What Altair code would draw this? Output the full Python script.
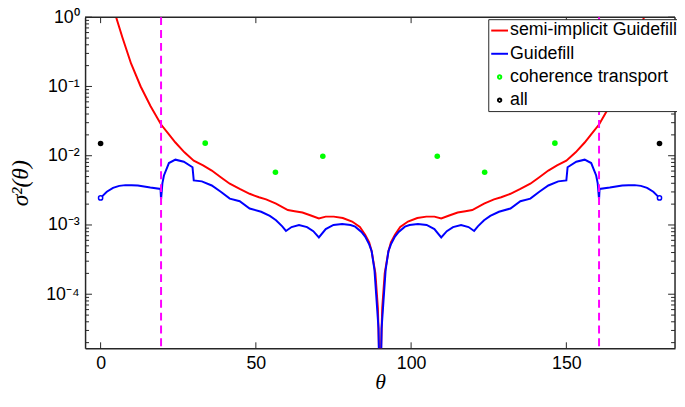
import math
import altair as alt
import pandas as pd

# ---------------- data ----------------
# Guidefill (blue)
blue_theta = [0, 2, 4, 6, 8, 10, 12, 14, 16, 19.3, 19.47, 19.9, 20.4, 22.0, 24.1, 26.8, 29.6, 30.0,
              32.6, 35.8, 38.7, 41.6, 44.8, 48.0, 51.7, 54.5, 56.5, 58.5, 59.7, 61.5, 63.9, 66.5,
              68.5, 70.3, 72.5, 75.0, 77.8, 80.5, 82.0, 84.0, 85.2, 86.5, 87.3, 88.2, 88.9, 89.5,
              89.85, 90,
              90.15, 90.5, 91.1, 91.8, 92.7, 93.5, 94.8, 96.0, 98.0, 99.5, 102.2, 105.0, 107.5,
              109.7, 111.5, 113.5, 116.1, 118.5, 120.3, 121.5, 123.5, 125.5, 128.3, 132.0, 135.2,
              138.4, 141.3, 144.2, 147.4, 150.0, 150.4, 153.2, 155.9, 158.0, 159.6, 160.1, 160.53,
              160.7, 164, 166, 168, 170, 172, 174, 176, 178, 180]
blue_val = [0.00246, 0.00302, 0.00343, 0.00367, 0.00376, 0.00376, 0.00372, 0.00359, 0.00347,
            0.00331, 0.00234, 0.00398, 0.00518, 0.00783, 0.00877, 0.00820, 0.00681, 0.00440,
            0.00426, 0.00372, 0.00302, 0.00240, 0.00220, 0.00173, 0.00155, 0.00135, 0.00117,
            0.000955, 0.000820, 0.000933, 0.00100, 0.000933, 0.000813, 0.000661, 0.000871,
            0.00100, 0.00103, 0.00100, 0.000946, 0.000794, 0.000681, 0.000525, 0.000417,
            0.000224, 7.9e-5, 3.2e-5, 3.2e-6, 1e-7,
            3.2e-6, 3.2e-5, 7.9e-5, 0.000224, 0.000417, 0.000525, 0.000681, 0.000794, 0.000946,
            0.00100, 0.00103, 0.00100, 0.000871, 0.000661, 0.000813, 0.000933, 0.00100,
            0.000933, 0.000820, 0.000955, 0.00117, 0.00135, 0.00155, 0.00173, 0.00220, 0.00240,
            0.00302, 0.00372, 0.00426, 0.00440, 0.00681, 0.00820, 0.00877, 0.00783, 0.00518,
            0.00398, 0.00234, 0.00331, 0.00347, 0.00359, 0.00372, 0.00376, 0.00376, 0.00367,
            0.00343, 0.00302, 0.00246]

# semi-implicit Guidefill (red)
red_theta = [2, 3.5, 5, 7, 9.8, 12.9, 16.1, 19.47, 22, 24.1, 27, 30, 33, 35.8, 38.7, 41.6, 44.8,
             48, 51, 53.3, 56.5, 60.3, 62.5, 65, 67.5, 70.3, 72.5, 75.1, 78, 81, 83.5, 85.2,
             86.5, 87.3, 88.5, 89.3, 89.8, 90,
             90.2, 90.7, 91.5, 92.7, 93.5, 94.8, 96.5, 99, 102, 104.9, 107.5, 109.7, 112.5, 115,
             117.5, 119.7, 123.5, 126.7, 129, 132, 135.2, 138.4, 141.3, 144.2, 147, 150, 153,
             155.9, 158, 160.53, 163.9, 167.1, 170.2, 173, 175, 176.5, 178]
red_val = [3.16, 1.585, 1.0, 0.513, 0.215, 0.100, 0.0518, 0.0282, 0.0204, 0.0155, 0.0112,
           0.00849, 0.00724, 0.00611, 0.00490, 0.00394, 0.00331, 0.00282, 0.00251, 0.00234,
           0.00204, 0.00164, 0.00158, 0.00151, 0.00138, 0.00124, 0.00132, 0.00132, 0.00126,
           0.00112, 0.000933, 0.000724, 0.000562, 0.000417, 0.000200, 6.3e-5, 1e-5, 1e-7,
           1e-5, 6.3e-5, 0.000200, 0.000417, 0.000562, 0.000724, 0.000933, 0.00112, 0.00126,
           0.00132, 0.00132, 0.00124, 0.00138, 0.00151, 0.00158, 0.00164, 0.00204, 0.00234,
           0.00251, 0.00282, 0.00331, 0.00394, 0.00490, 0.00611, 0.00724, 0.00849, 0.0112,
           0.0155, 0.0204, 0.0282, 0.0518, 0.100, 0.215, 0.513, 1.0, 1.585, 3.16]

# blue end markers
end_theta = [0, 180]
end_val = [0.00246, 0.00246]

# coherence transport (green) and all (black)
green_theta = [33.69, 56.31, 71.57, 108.43, 123.69, 146.31]
green_val = [0.0152, 0.00577, 0.0098, 0.0098, 0.00577, 0.0152]
black_theta = [0, 180]
black_val = [0.015, 0.015]

# dashed vertical lines
vline_theta = [19.47, 160.53]

# legend / axes
series_names = ["semi-implicit Guidefill", "Guidefill", "coherence transport", "all"]
series_colors = ["#FF0000", "#0000FF", "#00FF00", "#000000"]
x_ticks = [0, 50, 100, 150]
y_major = [1e-4, 1e-3, 1e-2, 1e-1, 1]
y_major_exp = [-4, -3, -2, -1, 0]
y_labels = ["10⁻⁴", "10⁻³", "10⁻²", "10⁻¹", "10⁰"]

# ---------------- chart ----------------
W, H = 597, 335
X0, X1 = -5, 185
DECADES = 4.78
YMIN = 10 ** -DECADES
FONT = "Liberation Sans"
AXC = "#262626"

PX_X = W / (X1 - X0)          # pixels per theta unit
PX_DEC = H / DECADES          # pixels per decade

y_ticks_all = [m * 10.0 ** e for e in range(-5, 1) for m in range(1, 10) if YMIN <= m * 10.0 ** e <= 1.0]

label_expr = "".join(
    f"abs(log(datum.value)/LN10 - ({e})) < 0.01 ? '{l}' : " for e, l in zip(y_major_exp, y_labels)
) + "''"
DOT = "M -0.2,0 A 0.2,0.2 0 1,0 0.2,0 A 0.2,0.2 0 1,0 -0.2,0 Z"

XS = alt.Scale(domain=[X0, X1], nice=False, zero=False)
YS = alt.Scale(type="log", domain=[YMIN, 1], nice=False)

red_df = pd.DataFrame({"theta": red_theta, "value": red_val})
blue_df = pd.DataFrame({"theta": blue_theta, "value": blue_val})
end_df = pd.DataFrame({"theta": end_theta, "value": end_val})
green_df = pd.DataFrame({"theta": green_theta, "value": green_val})
black_df = pd.DataFrame({"theta": black_theta, "value": black_val})
vline_df = pd.DataFrame({"theta": vline_theta})
legend_df = pd.DataFrame({"series": series_names, "theta": [90] * 4, "value": [1e-9] * 4})

# box ticks (pointing inward) as short two-point line segments, placed through the scales
seg = []
k = 0
for v in y_ticks_all:
    major = abs(round(math.log10(v)) - math.log10(v)) < 1e-6
    L = (7 if major else 4) / PX_X
    for a, b in ((X0, X0 + L), (X1, X1 - L)):
        seg.append({"tid": k, "theta": a, "value": v})
        seg.append({"tid": k, "theta": b, "value": v})
        k += 1
dl = 10 ** (6 / PX_DEC)
for t in x_ticks:
    for a, b in ((YMIN, YMIN * dl), (1.0, 1.0 / dl)):
        seg.append({"tid": k, "theta": t, "value": a})
        seg.append({"tid": k, "theta": t, "value": b})
        k += 1
tick_seg_df = pd.DataFrame(seg)
# top and right edges of the box
frame_df = pd.DataFrame({"tid": [0, 0, 1, 1],
                         "theta": [X0, X1, X1, X1],
                         "value": [1.0, 1.0, 1.0, YMIN]})

ax_x_label = alt.Axis(orient="bottom", values=x_ticks, ticks=False, grid=False,
                      labelFont=FONT, labelFontSize=18, labelColor="#000000", labelPadding=6,
                      domainColor=AXC, domainWidth=1.5,
                      title="θ", titleFont="Liberation Serif", titleFontStyle="italic",
                      titleFontWeight="normal", titleFontSize=22, titleColor="#000000",
                      titlePadding=0)
ax_y_label = alt.Axis(orient="left", values=y_major, ticks=False, grid=False,
                      labelExpr=label_expr, labelFont=FONT, labelFontSize=18,
                      labelColor="#000000", labelPadding=6,
                      domainColor=AXC, domainWidth=1.5,
                      title="σ²(θ)", titleFont="Liberation Serif", titleFontStyle="italic",
                      titleFontWeight="normal", titleFontSize=24, titleColor="#000000",
                      titlePadding=13)

red = alt.Chart(red_df).mark_line(color="#FF0000", strokeWidth=2, clip=True).encode(
    x=alt.X("theta:Q", scale=XS, axis=ax_x_label),
    y=alt.Y("value:Q", scale=YS, axis=ax_y_label),
)
ticks = alt.Chart(tick_seg_df).mark_line(color=AXC, strokeWidth=1).encode(
    x="theta:Q", y="value:Q", detail="tid:N", order="tid:Q",
)
frame = alt.Chart(frame_df).mark_line(color=AXC, strokeWidth=1.5).encode(
    x="theta:Q", y="value:Q", detail="tid:N",
)
blue = alt.Chart(blue_df).mark_line(color="#0000FF", strokeWidth=2, clip=True).encode(
    x="theta:Q", y="value:Q",
)
ends = alt.Chart(end_df).mark_point(shape="circle", filled=False, fill="white", color="#0000FF",
                                    strokeWidth=1.5, size=18, opacity=1).encode(
    x="theta:Q", y="value:Q",
)
vlines = alt.Chart(vline_df).mark_rule(color="#FF00FF", strokeWidth=2, strokeDash=[8, 5]).encode(
    x="theta:Q",
)
green = alt.Chart(green_df).mark_point(shape="circle", filled=True, color="#00FF00",
                                       size=32, opacity=1).encode(
    x="theta:Q", y="value:Q",
)
black = alt.Chart(black_df).mark_point(shape="circle", filled=True, color="#000000",
                                       size=32, opacity=1).encode(
    x="theta:Q", y="value:Q",
)

leg = alt.Legend(title=None, orient="none", legendX=408, legendY=2, zindex=1,
                 fillColor="white", strokeColor=AXC, padding=2, rowPadding=4.5,
                 labelFont=FONT, labelFontSize=18, labelColor="#000000", labelLimit=400,
                 labelOffset=1, symbolStrokeWidth=2, symbolSize=289)
legend_layer = alt.Chart(legend_df).mark_point(filled=False, strokeWidth=2, opacity=1,
                                               clip=True).encode(
    x="theta:Q", y="value:Q",
    color=alt.Color("series:N", scale=alt.Scale(domain=series_names, range=series_colors),
                    legend=leg),
    shape=alt.Shape("series:N", scale=alt.Scale(domain=series_names,
                                                range=["stroke", "stroke", DOT, DOT]),
                    legend=leg),
)

chart = alt.layer(red, ticks, frame, blue, vlines, ends, green, black,
                  legend_layer).properties(
    width=W, height=H,
    autosize=alt.AutoSizeParams(type="none"),
    padding={"left": 78, "top": 7, "right": 2, "bottom": 46},
    background="white",
).configure_view(stroke=None)

chart.save("out.html", embed_options={"renderer": "svg", "actions": False})
